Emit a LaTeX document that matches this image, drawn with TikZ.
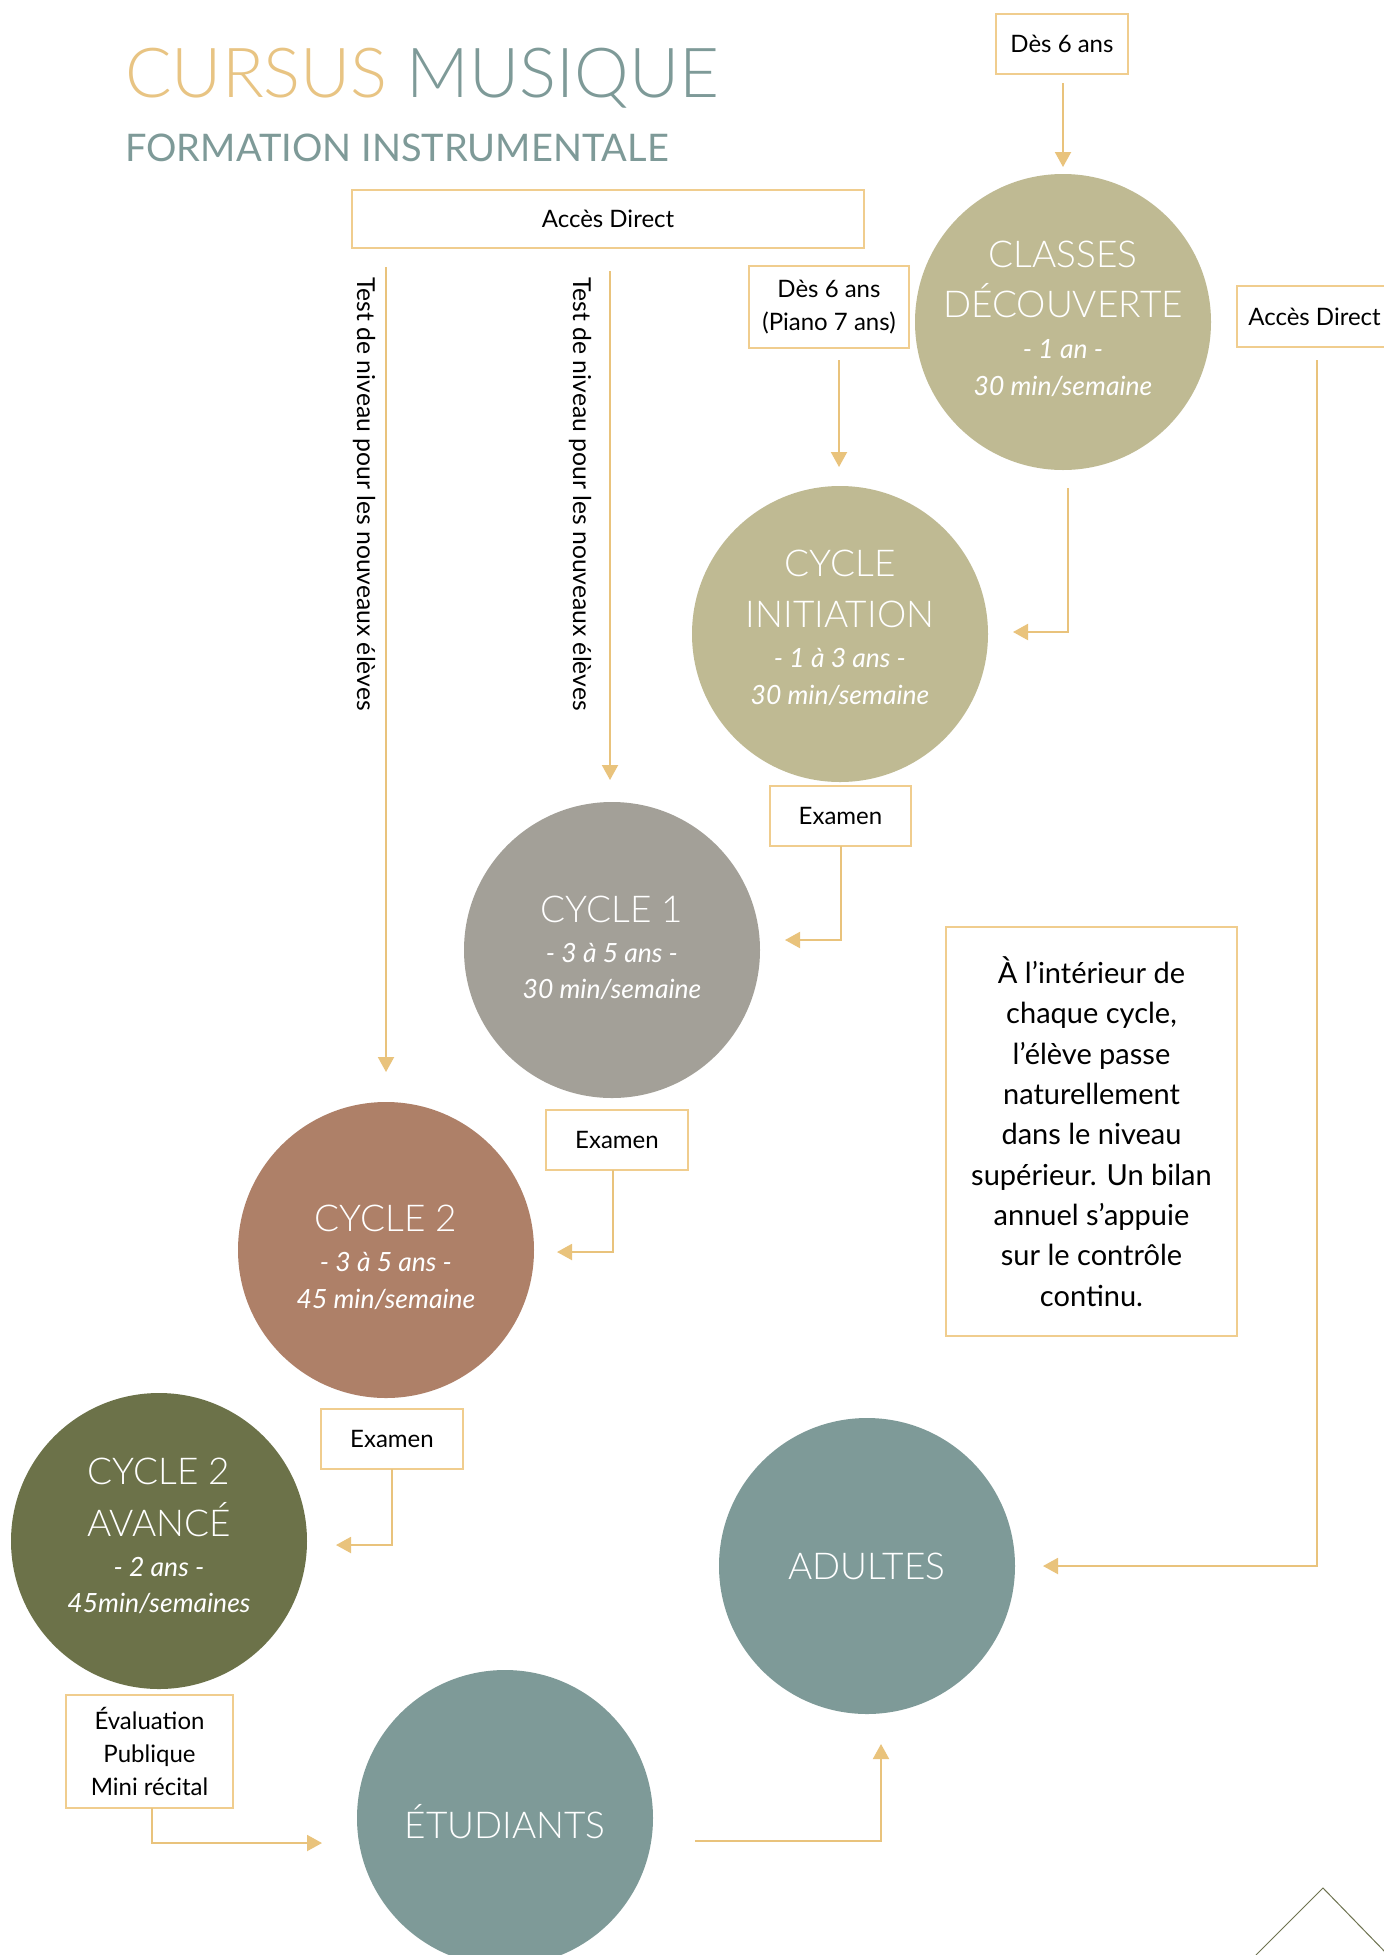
\documentclass[tikz,border=0pt]{standalone}
\usepackage{fontspec}
\setmainfont{Lato}
\IfFontExistsTF{Lato Light}{\IfFontExistsTF{Lato Light Italic}{\newfontfamily\lightfont{Lato Light}[ItalicFont={Lato Light Italic}]}{\newfontfamily\lightfont{Lato}}}{\newfontfamily\lightfont{Lato}}
\usetikzlibrary{arrows.meta,calc}
\definecolor{gold}{HTML}{E9C37C}
\definecolor{boxgold}{HTML}{F0CD8E}
\definecolor{teal}{HTML}{7E9A98}
\definecolor{sand}{HTML}{BFBA93}
\definecolor{stone}{HTML}{A3A098}
\definecolor{clay}{HTML}{AE8068}
\definecolor{moss}{HTML}{6C7249}
\definecolor{titlegold}{HTML}{E8C483}
\definecolor{triline}{HTML}{6E7350}
\tikzset{
 disc/.style={circle, fill=#1, draw=none, minimum size=296pt, inner sep=0pt, outer sep=0pt},
 lbl/.style={draw=boxgold, line width=1.2pt, inner sep=0pt, outer sep=0pt, font=\fontsize{24}{33}\selectfont, text=black, align=center},
 conn/.style={draw=gold, line width=2pt, -{Triangle[length=15pt,width=16pt]}},
 ctit/.style={text=white, font=\lightfont\fontsize{37}{37}\selectfont, anchor=base, inner sep=0pt},
 csub/.style={text=white, font=\fontsize{26.5}{26.5}\selectfont\itshape, anchor=base, inner sep=0pt},
 rot/.style={rotate=-90, anchor=base west, inner sep=0pt, font=\fontsize{24.7}{24.7}\selectfont, text=black},
}
\begin{document}
\begin{tikzpicture}[x=1pt,y=-1pt]
\useasboundingbox (0,0) rectangle (1384,1955);
\fill[white] (0,0) rectangle (1384,1955);

% title
\node[anchor=base west, inner sep=0pt, font=\lightfont\fontsize{69}{69}\selectfont] (title) at (125,97) {\textcolor{titlegold}{CURSUS} \textcolor{teal}{MUSIQUE}};
\node[anchor=base west, inner sep=0pt, font=\fontsize{38}{38}\selectfont, text=teal] (subtitle) at (125,161) {FORMATION INSTRUMENTALE};

% circles
\node[disc=sand] (cd) at (1063,322) {};
\node[ctit] (cdt1) at (1063,267) {CLASSES};
\node[ctit] (cdt2) at (1063,317) {DÉCOUVERTE};
\node[csub] (cdt3) at (1063,358) {- 1 an -};
\node[csub] (cdt4) at (1063,395) {30 min/semaine};

\node[disc=sand] (ci) at (840,634) {};
\node[ctit] (cit1) at (840,576) {CYCLE};
\node[ctit] (cit2) at (840,627) {INITIATION};
\node[csub] (cit3) at (840,667) {- 1 à 3 ans -};
\node[csub] (cit4) at (840,704) {30 min/semaine};

\node[disc=stone] (c1) at (612,950) {};
\node[ctit] (c1t1) at (612,922) {CYCLE 1};
\node[csub] (c1t2) at (612,962) {- 3 à 5 ans -};
\node[csub] (c1t3) at (612,998) {30 min/semaine};

\node[disc=clay] (c2) at (386,1250) {};
\node[ctit] (c2t1) at (386,1231) {CYCLE 2};
\node[csub] (c2t2) at (386,1271) {- 3 à 5 ans -};
\node[csub] (c2t3) at (386,1308) {45 min/semaine};

\node[disc=moss] (c2a) at (159,1541) {};
\node[ctit] (c2at1) at (159,1484) {CYCLE 2};
\node[ctit] (c2at2) at (159,1536) {AVANCÉ};
\node[csub] (c2at3) at (159,1576) {- 2 ans -};
\node[csub] (c2at4) at (159,1612) {45min/semaines};

\node[disc=teal] (ad) at (867,1566) {};
\node[ctit] (adt) at (867,1579) {ADULTES};

\node[disc=teal] (et) at (505,1818) {};
\node[ctit] (ett) at (505,1838) {ÉTUDIANTS};

% boxes
\node[lbl, minimum width=132pt, minimum height=60pt] (d6) at (1062,44) {Dès 6 ans};
\node[lbl, minimum width=155pt, minimum height=61pt] (adr) at (1314.5,316.5) {Accès Direct};
\node[lbl, minimum width=512pt, minimum height=58pt] (acc) at (608,219) {Accès Direct};
\node[lbl, minimum width=160pt, minimum height=82pt] (pi) at (829,307) {Dès 6 ans\\(Piano 7 ans)};
\node[lbl, minimum width=141pt, minimum height=60pt] (ex1) at (840.5,816) {Examen};
\node[lbl, minimum width=142pt, minimum height=60pt] (ex2) at (617,1140) {Examen};
\node[lbl, minimum width=142pt, minimum height=60pt] (ex3) at (392,1439) {Examen};
\node[lbl, minimum width=167pt, minimum height=113pt] (ev) at (149.5,1751.5) {Évaluation\\Publique\\Mini récital};
\node[lbl, minimum width=291pt, minimum height=409pt, font=\fontsize{29}{40.3}\selectfont] (note) at (1091.5,1131.5) {À l’intérieur de\\chaque cycle,\\l’élève passe\\naturellement\\dans le niveau\\supérieur. Un bilan\\annuel s’appuie\\sur le contrôle\\continu.};

% rotated labels
\node[rot] (t1) at (357,277) {Test de niveau pour les nouveaux élèves};
\node[rot] (t2) at (573,277) {Test de niveau pour les nouveaux élèves};

% connectors
\draw[conn] ($(d6.south)+(1,9)$) -- ($(cd.north)+(0,-7)$);
\draw[conn] ($(pi.south)+(10,12)$) -- ($(ci.north)+(-1,-19)$);
\draw[conn] ($(cd.south)+(5,18)$) |- ($(ci.east)+(25,-2)$);
\draw[conn] (ex1.south) |- ($(c1.east)+(25,-10)$);
\draw[conn] ($(ex2.south)+(-4,0)$) |- ($(c2.east)+(23,2)$);
\draw[conn] (ex3.south) |- ($(c2a.east)+(29,4)$);
\draw[conn] ($(ev.south)+(2.5,0)$) |- ($(et.west)+(-35,25)$);
\draw[conn] ($(et.east)+(42,23)$) -| ($(ad.south)+(14,30)$);
\draw[conn] ($(adr.south)+(2.5,13)$) |- ($(ad.east)+(28,0)$);
\draw[conn] ($(acc.south)+(2,23)$) -- ($(c1.north)+(-2,-22)$);
\draw[conn] ($(acc.south)+(-222,19)$) -- ($(c2.north)+(0,-30)$);

% corner ornament
\draw[triline, line width=1pt] (1256,1955) -- (1323,1888) -- (1390,1957);
\end{tikzpicture}
\end{document}
